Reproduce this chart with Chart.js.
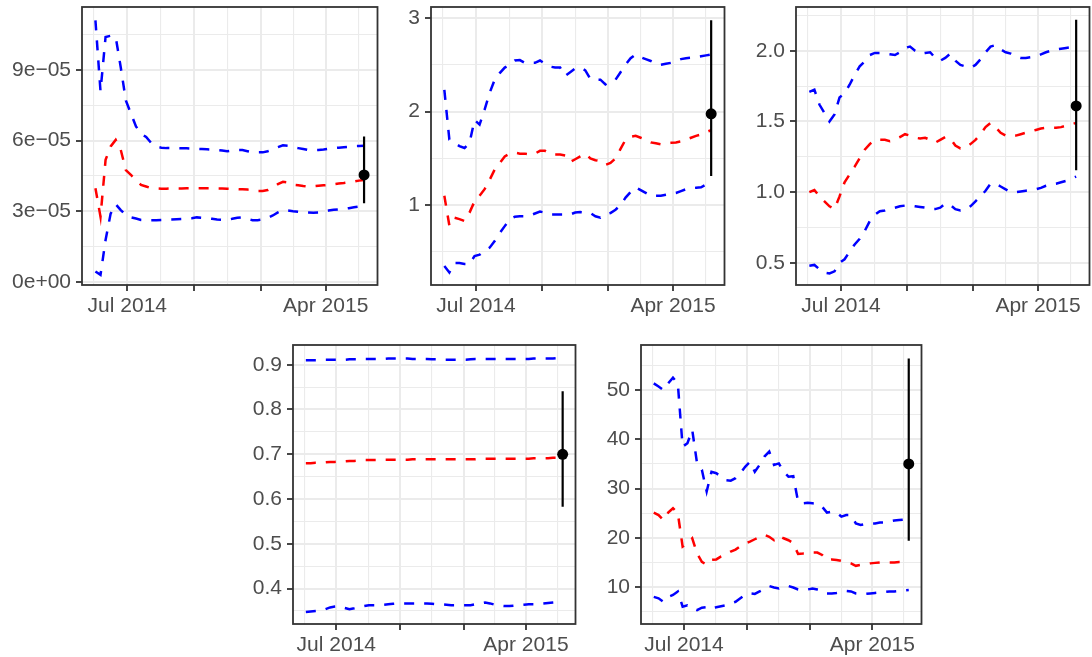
<!DOCTYPE html>
<html><head><meta charset="utf-8">
<script src="https://cdn.jsdelivr.net/npm/chart.js@4.4.1/dist/chart.umd.min.js"></script>
<style>
html,body{margin:0;padding:0;background:#fff;width:1092px;height:657px;overflow:hidden;position:relative}
canvas{position:absolute}
</style></head><body>
<canvas id="c1"></canvas><canvas id="c2"></canvas><canvas id="c3"></canvas><canvas id="c4"></canvas><canvas id="c5"></canvas>
<script>
// ---------- data ----------
const dates = ['2014-05-18','2014-05-25','2014-06-01','2014-06-08','2014-06-15','2014-06-22','2014-06-29',
'2014-07-06','2014-07-13','2014-07-20','2014-07-27','2014-08-03','2014-08-10','2014-08-17','2014-08-24','2014-08-31',
'2014-09-07','2014-09-14','2014-09-21','2014-09-28','2014-10-05','2014-10-12','2014-10-19','2014-10-26',
'2014-11-02','2014-11-09','2014-11-16','2014-11-23','2014-11-30','2014-12-07','2014-12-14','2014-12-21','2014-12-28',
'2015-01-04','2015-01-11','2015-01-18','2015-01-25','2015-02-01','2015-02-08','2015-02-15','2015-02-22',
'2015-03-01','2015-03-08','2015-03-15','2015-03-22','2015-03-29','2015-04-05','2015-04-12','2015-04-19','2015-04-26',
'2015-05-03','2015-05-10','2015-05-17','2015-05-24'];

const xTickDates  = ['2014-05-16','2014-07-01','2014-08-16','2014-10-01','2014-11-16','2015-01-01','2015-02-15','2015-04-01','2015-05-16'];
const xTickLabels = ['','Jul 2014','','','','','','Apr 2015',''];
const xTickMinor  = [true,false,true,false,true,false,true,false,true];

// Panel 1
const p1Upper = [11.1e-5,8.1e-5,10.4e-5,10.45e-5,10.4e-5,9.1e-5,7.7e-5,7.15e-5,6.6e-5,6.3e-5,
6.15e-5,5.9e-5,5.75e-5,5.7e-5,5.68e-5,5.68e-5,5.68e-5,5.67e-5,5.67e-5,5.66e-5,
5.65e-5,5.64e-5,5.63e-5,5.62e-5,5.6e-5,5.58e-5,5.55e-5,5.58e-5,5.6e-5,5.6e-5,
5.55e-5,5.5e-5,5.5e-5,5.5e-5,5.55e-5,5.62e-5,5.72e-5,5.8e-5,5.78e-5,5.72e-5,
5.68e-5,5.64e-5,5.6e-5,5.6e-5,5.6e-5,5.62e-5,5.65e-5,5.68e-5,5.7e-5,5.72e-5,
5.74e-5,5.76e-5,5.77e-5,5.78e-5];
const p1Median = [3.98e-5,2.77e-5,5.18e-5,5.75e-5,6.03e-5,5.6e-5,4.75e-5,4.54e-5,4.33e-5,4.12e-5,
4.05e-5,3.98e-5,3.97e-5,3.96e-5,3.96e-5,3.97e-5,3.97e-5,3.97e-5,3.98e-5,3.98e-5,
3.98e-5,3.98e-5,3.98e-5,3.98e-5,3.97e-5,3.97e-5,3.96e-5,3.95e-5,3.94e-5,3.93e-5,
3.92e-5,3.9e-5,3.86e-5,3.86e-5,3.9e-5,4.0e-5,4.15e-5,4.25e-5,4.22e-5,4.12e-5,
4.1e-5,4.07e-5,4.05e-5,4.06e-5,4.08e-5,4.1e-5,4.12e-5,4.15e-5,4.18e-5,4.2e-5,
4.23e-5,4.26e-5,4.3e-5,4.33e-5];
const p1Lower = [0.44e-5,0.3e-5,1.78e-5,2.9e-5,3.3e-5,3.05e-5,2.84e-5,2.74e-5,2.69e-5,2.63e-5,
2.62e-5,2.62e-5,2.62e-5,2.63e-5,2.64e-5,2.65e-5,2.66e-5,2.67e-5,2.68e-5,2.7e-5,
2.74e-5,2.72e-5,2.7e-5,2.68e-5,2.65e-5,2.64e-5,2.63e-5,2.68e-5,2.72e-5,2.74e-5,
2.68e-5,2.62e-5,2.62e-5,2.65e-5,2.72e-5,2.82e-5,2.95e-5,3.05e-5,3.03e-5,3.0e-5,
2.98e-5,2.96e-5,2.95e-5,2.94e-5,2.95e-5,2.98e-5,3.03e-5,3.06e-5,3.08e-5,3.1e-5,
3.13e-5,3.17e-5,3.2e-5,3.23e-5];
const p1Obs = [4.54e-5, 3.34e-5, 6.17e-5]; // value, low, high
const p1YTicks  = [0, 1.5e-5, 3e-5, 4.5e-5, 6e-5, 7.5e-5, 9e-5, 10.5e-5];
const p1YLabels = ['0e+00','','3e\u221205','','6e\u221205','','9e\u221205',''];

// Panel 2
const p2Upper = [2.23,1.70,1.665,1.63,1.61,1.665,1.91,1.86,2.02,2.2,
2.34,2.41,2.47,2.5,2.545,2.55,2.52,2.52,2.52,2.545,
2.51,2.48,2.47,2.47,2.38,2.42,2.46,2.47,2.44,2.35,
2.34,2.34,2.29,2.32,2.34,2.42,2.5,2.57,2.61,2.58,
2.56,2.54,2.51,2.50,2.51,2.52,2.54,2.56,2.57,2.575,
2.58,2.59,2.6,2.61];
const p2Median = [1.10,0.78,0.865,0.85,0.83,0.92,1.04,1.10,1.17,1.27,
1.38,1.45,1.52,1.55,1.56,1.55,1.55,1.54,1.55,1.58,
1.58,1.55,1.54,1.54,1.53,1.46,1.49,1.52,1.55,1.5,
1.48,1.47,1.43,1.45,1.5,1.6,1.7,1.73,1.74,1.72,
1.7,1.67,1.66,1.65,1.66,1.665,1.67,1.68,1.7,1.72,
1.74,1.755,1.78,1.80];
const p2Lower = [0.35,0.28,0.38,0.38,0.37,0.37,0.455,0.47,0.51,0.545,
0.615,0.70,0.775,0.85,0.875,0.88,0.88,0.89,0.91,0.93,
0.92,0.90,0.90,0.90,0.90,0.90,0.92,0.925,0.92,0.915,
0.88,0.865,0.90,0.915,0.95,1.0,1.08,1.14,1.19,1.16,
1.13,1.10,1.10,1.10,1.11,1.12,1.13,1.15,1.17,1.18,
1.185,1.19,1.22,1.27];
const p2Obs = [1.975, 1.31, 2.975];
const p2YTicks  = [0.5, 1, 1.5, 2, 2.5, 3];
const p2YLabels = ['','1','','2','','3'];

// Panel 3
const p3Upper = [1.71,1.725,1.62,1.56,1.50,1.55,1.67,1.70,1.76,1.83,
1.89,1.925,1.97,1.985,1.985,1.98,1.975,1.97,1.99,2.02,
2.03,2.0,1.98,1.985,1.99,1.95,1.93,1.95,1.98,1.93,
1.90,1.89,1.88,1.90,1.94,1.99,2.03,2.04,2.01,1.99,
1.98,1.96,1.95,1.95,1.955,1.96,1.975,1.99,2.0,2.01,
2.015,2.02,2.025,2.03];
const p3Median = [1.0,1.015,0.97,0.935,0.90,0.88,0.97,1.07,1.125,1.18,
1.24,1.30,1.34,1.37,1.37,1.37,1.36,1.375,1.39,1.41,
1.40,1.385,1.38,1.385,1.37,1.35,1.37,1.39,1.38,1.33,
1.31,1.315,1.34,1.37,1.41,1.46,1.49,1.46,1.42,1.40,
1.395,1.40,1.41,1.42,1.43,1.44,1.45,1.455,1.455,1.455,
1.46,1.47,1.48,1.49];
const p3Lower = [0.48,0.485,0.455,0.43,0.425,0.44,0.50,0.525,0.58,0.63,
0.67,0.725,0.795,0.84,0.865,0.87,0.88,0.89,0.90,0.905,
0.905,0.90,0.895,0.89,0.88,0.88,0.89,0.92,0.91,0.88,
0.87,0.875,0.90,0.935,0.97,1.01,1.06,1.06,1.04,1.02,
1.0,1.0,1.005,1.01,1.015,1.02,1.03,1.045,1.055,1.06,
1.07,1.08,1.095,1.11];
const p3Obs = [1.61, 1.155, 2.22];
const p3YTicks  = [0.5, 0.75, 1.0, 1.25, 1.5, 1.75, 2.0, 2.25];
const p3YLabels = ['0.5','','1.0','','1.5','','2.0',''];

// Panel 4
const p4Upper = [0.910,0.910,0.910,0.910,0.911,0.911,0.911,0.911,0.911,0.912,
0.912,0.912,0.913,0.913,0.913,0.913,0.913,0.914,0.914,0.914,
0.914,0.914,0.913,0.913,0.913,0.913,0.912,0.912,0.911,0.911,
0.911,0.911,0.911,0.911,0.912,0.913,0.913,0.913,0.913,0.913,
0.913,0.913,0.913,0.913,0.913,0.913,0.913,0.914,0.914,0.914,
0.914,0.914,0.915,0.915];
const p4Median = [0.680,0.680,0.681,0.681,0.682,0.683,0.683,0.684,0.684,0.685,
0.685,0.686,0.687,0.687,0.687,0.687,0.688,0.688,0.688,0.688,
0.688,0.688,0.689,0.689,0.689,0.689,0.689,0.689,0.689,0.689,
0.689,0.689,0.689,0.689,0.689,0.689,0.690,0.690,0.690,0.690,
0.690,0.690,0.690,0.690,0.690,0.690,0.690,0.691,0.691,0.691,
0.691,0.692,0.692,0.692];
const p4Lower = [0.348,0.349,0.350,0.351,0.354,0.358,0.360,0.361,0.357,0.354,
0.356,0.359,0.361,0.363,0.363,0.363,0.364,0.365,0.366,0.367,
0.367,0.367,0.367,0.367,0.367,0.367,0.366,0.365,0.365,0.364,
0.363,0.363,0.363,0.363,0.363,0.365,0.367,0.369,0.367,0.364,
0.362,0.361,0.361,0.362,0.363,0.364,0.365,0.365,0.366,0.367,
0.368,0.369,0.370,0.372];
const p4Obs = [0.70, 0.583, 0.841];
const p4YTicks  = [0.35,0.4,0.45,0.5,0.55,0.6,0.65,0.7,0.75,0.8,0.85,0.9];
const p4YLabels = ['','0.4','','0.5','','0.6','','0.7','','0.8','','0.9'];

// Panel 5
const p5Upper = [51.35,50.7,50,51.35,52.5,51.35,38.5,39.2,41.9,35.1,
33.8,29.4,33.4,33.1,32.4,31.7,31.6,32.1,33.1,34.4,
35.4,33.4,34.8,36.5,37.5,34.8,35.1,33.4,32.4,32.5,
27.3,27,27.1,27,26.9,26.3,25.1,25.3,25.1,24.3,
24.6,24.6,22.9,22.6,22.8,22.9,22.9,23.1,23.1,23.3,
23.5,23.6,23.7,23.9];
const p5Median = [25.1,24.6,23.6,25.1,26,25,18.2,18.9,19.9,16.8,
15.1,14.5,15.5,15.6,16.2,16.6,17.2,17.6,18.3,18.9,
19.2,19.7,20.2,20.6,20.2,19.5,20.4,19.9,19.5,18.9,
16.7,16.8,17.0,17.0,17.0,16.5,15.5,15.6,15.5,15.3,
15.1,14.8,14.3,14.5,14.6,14.8,14.9,15.0,15.0,15.0,
15.0,15.1,15.1,15.3];
const p5Lower = [8.0,7.7,7.0,8.0,8.4,9.1,6.0,6.3,5.7,5.3,
5.8,5.9,5.5,5.9,6.1,6.3,6.7,7.0,7.7,8.4,
8.7,8.6,9.1,9.6,10.2,9.9,9.7,10.1,10.2,9.9,
9.5,9.4,9.5,9.7,9.5,9.3,8.7,8.7,8.8,9.0,
9.2,9.1,8.7,8.6,8.6,8.7,8.8,8.9,9.0,9.1,
9.1,9.2,9.3,9.4];
const p5Obs = [35.0, 19.4, 56.4];
const p5YTicks  = [5,10,15,20,25,30,35,40,45,50,55];
const p5YLabels = ['','10','','20','','30','','40','','50',''];

// ---------- drawing ----------
const dayNum = s => Date.UTC(+s.slice(0,4), +s.slice(5,7)-1, +s.slice(8,10)) / 86400000;
const xs = dates.map(dayNum);
const xFirst = xs[0], xLast = xs[xs.length-1];
const xPad = 0.05 * (xLast - xFirst);

Chart.defaults.font.family = "'Liberation Sans', Arial, Helvetica, sans-serif";
Chart.defaults.font.size = 21;
Chart.defaults.color = '#4D4D4D';

const frame = {
  id: 'frame',
  afterDatasetsDraw(chart) {
    const {ctx, chartArea: a} = chart;
    ctx.save();
    ctx.strokeStyle = '#333333';
    ctx.lineWidth = 1.8;
    ctx.strokeRect(a.left, a.top, a.right - a.left, a.bottom - a.top);
    ctx.restore();
  }
};

const YW = 82, TOP = 7, RIGHT = 4, XH = 50;

function zeroPad(s) { s.paddingTop = 0; s.paddingBottom = 0; s.paddingLeft = 0; s.paddingRight = 0; }

function gridOpts() {
  return {
    color: '#EBEBEB',
    lineWidth: c => (c.tick && c.tick.minor) ? 1.1 : 2,
    drawTicks: true,
    tickLength: 6,
    tickWidth: 1.8,
    tickColor: c => (c.tick && c.tick.minor) ? 'rgba(0,0,0,0)' : '#333333'
  };
}

function makePanel(id, box, yMin, yMax, yTicks, yLabels, upper, median, lower, obs) {
  const cv = document.getElementById(id);
  const w = box.r - box.l + YW + RIGHT;
  const h = box.b - box.t + TOP + XH;
  cv.width = w; cv.height = h;
  cv.style.left = (box.l - YW) + 'px';
  cv.style.top = (box.t - TOP) + 'px';
  cv.style.width = w + 'px'; cv.style.height = h + 'px';

  const series = arr => arr.map((v, i) => ({x: xs[i], y: v}));
  const line = (arr, col) => ({data: series(arr), borderColor: col, borderWidth: 2.5,
    borderDash: [10, 10], pointRadius: 0, tension: 0, fill: false});

  new Chart(cv.getContext('2d'), {
    type: 'line',
    data: { datasets: [
      {data: [{x: xLast, y: obs[0]}], showLine: false, pointRadius: 5.5,
       pointBackgroundColor: '#000', pointBorderWidth: 0, borderColor: '#000'},
      {data: [{x: xLast, y: obs[1]}, {x: xLast, y: obs[2]}], borderColor: '#000',
       borderWidth: 2.2, pointRadius: 0},
      line(median, '#FF0000'),
      line(upper, '#0000FF'),
      line(lower, '#0000FF')
    ]},
    options: {
      responsive: false, animation: false, devicePixelRatio: 1,
      layout: {padding: {top: TOP, right: RIGHT, left: 0, bottom: 0}},
      plugins: {legend: {display: false}, tooltip: {enabled: false}},
      scales: {
        x: {
          type: 'linear', min: xFirst - xPad, max: xLast + xPad,
          afterBuildTicks: s => { s.ticks = xTickDates.map((d, i) => ({value: dayNum(d), text: xTickLabels[i], minor: xTickMinor[i]})); },
          afterFit: s => { s.height = XH; zeroPad(s); },
          grid: gridOpts(),
          border: {display: false},
          ticks: {autoSkip: false, maxRotation: 0, minRotation: 0, padding: 3,
                  callback: (v, i, t) => t[i].text}
        },
        y: {
          type: 'linear', min: yMin, max: yMax,
          afterBuildTicks: s => { s.ticks = yTicks.map((v, i) => ({value: v, text: yLabels[i], minor: yLabels[i] === ''})); },
          afterFit: s => { s.width = YW; zeroPad(s); },
          grid: gridOpts(),
          border: {display: false},
          ticks: {autoSkip: false, padding: 5, callback: (v, i, t) => t[i].text}
        }
      }
    },
    plugins: [frame]
  });
}

makePanel('c1', {l: 82, t: 7, r: 379, b: 285}, -0.13e-5, 11.67e-5, p1YTicks, p1YLabels, p1Upper, p1Median, p1Lower, p1Obs);
makePanel('c2', {l: 431, t: 7, r: 726, b: 285}, 0.146, 3.117, p2YTicks, p2YLabels, p2Upper, p2Median, p2Lower, p2Obs);
makePanel('c3', {l: 796, t: 7, r: 1091, b: 285}, 0.343, 2.31, p3YTicks, p3YLabels, p3Upper, p3Median, p3Lower, p3Obs);
makePanel('c4', {l: 293, t: 345, r: 577, b: 624}, 0.321, 0.944, p4YTicks, p4YLabels, p4Upper, p4Median, p4Lower, p4Obs);
makePanel('c5', {l: 641, t: 345, r: 923, b: 624}, 2.49, 59.14, p5YTicks, p5YLabels, p5Upper, p5Median, p5Lower, p5Obs);
</script>
</body></html>
